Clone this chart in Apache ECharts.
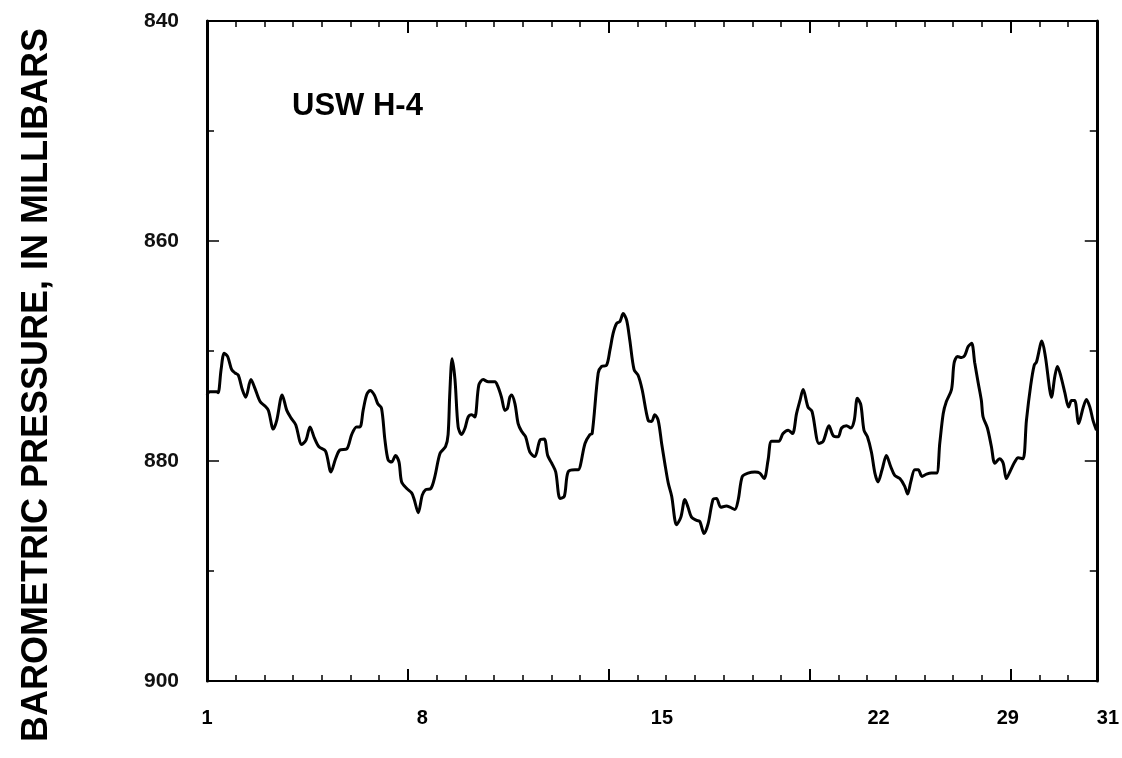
<!DOCTYPE html>
<html>
<head>
<meta charset="utf-8">
<script src="https://cdn.jsdelivr.net/npm/echarts@6/dist/echarts.min.js"></script>
<style>html,body{margin:0;padding:0;background:#fff}#c{width:1122px;height:758px}</style>
</head>
<body>
<div id="c"></div>
<script>
// Time in days (day 1 start .. end of day 31 = 32)
const days = [
 1.00,1.10,1.34,1.39,1.49,1.60,1.72,1.86,1.98,2.09,2.23,2.35,2.53,2.67,2.85,3.02,3.14,3.31,3.43,3.62,3.78,3.93,4.09,4.30,4.45,4.59,4.74,4.90,5.13,5.32,5.48,5.63,5.87,6.04,6.21,
 6.33,6.44,6.56,6.68,6.83,6.95,7.08,7.20,7.31,7.43,7.57,7.69,7.78,7.96,8.13,8.22,8.36,8.50,8.62,8.80,8.94,9.12,9.31,9.40,9.46,9.54,9.64,9.75,9.87,9.99,10.10,10.22,10.33,10.47,10.62,10.80,11.03,11.13,11.26,11.38,11.47,11.55,
 11.61,11.73,11.84,11.96,12.10,12.25,12.42,12.60,12.75,12.87,13.01,13.15,13.30,13.45,13.58,13.82,13.93,14.17,14.34,14.42,14.63,14.75,14.92,15.04,15.15,15.27,15.39,15.50,15.62,15.73,15.88,16.02,16.16,16.37,16.49,16.60,16.72,
 16.84,16.95,17.07,17.19,17.36,17.51,17.65,17.76,17.88,18.06,18.17,18.32,18.46,18.63,18.75,18.90,19.10,19.22,19.39,19.51,19.65,19.85,20.09,20.26,20.41,20.55,20.67,20.92,21.07,21.25,21.40,21.54,21.66,
 21.77,21.94,22.08,22.32,22.47,22.67,22.82,22.99,23.11,23.28,23.43,23.55,23.66,23.78,23.89,24.01,24.15,24.27,24.38,24.52,24.67,24.82,24.96,25.14,25.31,25.41,25.52,25.66,25.78,25.91,26.07,26.24,26.42,26.53,26.65,26.76,26.94,27.03,27.15,
 27.29,27.40,27.52,27.64,27.75,27.87,27.98,28.04,28.19,28.33,28.45,28.62,28.74,28.85,28.97,29.14,29.26,29.43,29.55,29.70,29.82,29.90,30.09,30.21,30.36,30.42,30.54,30.63,30.75,30.89,31.02,31.12,31.23,31.37,31.52,31.64,31.76,31.87,31.99
];
// Barometric pressure, millibars
const pressure = [
 874.0,873.7,873.7,873.8,871.7,870.2,870.5,871.7,872.0,872.2,873.5,874.2,872.6,873.4,874.6,875.0,875.4,877.1,876.3,874.0,875.4,876.1,876.7,878.5,878.1,876.9,877.9,878.7,879.1,881.0,879.8,879.0,878.9,877.6,876.9,
 876.9,875.4,874.0,873.6,874.0,874.8,875.2,878.1,879.9,880.1,879.5,880.1,881.9,882.5,882.9,883.5,884.7,883.1,882.6,882.5,881.4,879.3,878.7,877.6,873.8,870.7,872.6,876.9,877.6,877.0,876.0,875.8,876.0,873.1,872.6,872.8,872.8,873.2,874.2,875.4,875.2,874.2,
 874.0,874.8,876.6,877.3,877.8,879.2,879.6,878.1,878.0,879.5,880.2,881.0,883.4,883.2,881.0,880.8,880.8,878.4,877.6,877.5,872.0,871.4,871.3,869.9,868.4,867.5,867.3,866.6,867.2,869.0,871.7,872.2,873.5,876.3,876.4,875.8,876.3,
 878.4,880.2,882.0,883.2,885.8,885.1,883.5,884.2,885.1,885.4,885.5,886.6,885.7,883.5,883.4,884.2,884.1,884.2,884.4,883.5,881.4,881.1,881.0,881.1,881.6,879.9,878.2,878.2,877.5,877.2,877.5,875.7,874.5,
 873.5,875.1,875.5,878.4,878.2,876.8,877.7,877.8,877.0,876.8,877.0,876.3,874.3,874.9,877.2,877.8,879.2,881.1,881.9,880.8,879.5,880.5,881.3,881.6,882.3,883.0,881.9,880.8,880.8,881.4,881.2,881.1,881.1,878.4,875.7,874.6,873.5,871.1,870.5,
 870.6,870.4,869.6,869.3,871.1,872.9,874.5,876.0,877.0,878.7,880.2,879.8,880.2,881.6,881.0,880.1,879.7,879.8,876.3,873.1,871.3,871.0,869.1,870.5,873.5,874.2,872.3,871.4,872.3,873.8,875.1,874.5,874.5,876.6,875.2,874.4,875.1,876.3,877.2
];
const xMin = 1, xMax = 32;
const majorDays = [8, 15, 22, 29];
const xLabelText = ['1', '8', '15', '22', '29', '31'];
const xLabelAt = [1, 8.5, 16.85, 24.4, 28.9, 32];
const yMin = 840, yMax = 900;
const stationLabel = 'USW H-4';
const yTitle = 'BAROMETRIC PRESSURE, IN MILLIBARS';

const FONT = "'Liberation Sans', Arial, Helvetica, sans-serif";
const chart = echarts.init(document.getElementById('c'), null, {renderer: 'canvas'});

const dayAxis = (pos, lineWidth) => ({
  type: 'value', position: pos, min: xMin, max: xMax, interval: 1,
  axisLine: {show: true, onZero: false, lineStyle: {color: '#000', width: lineWidth}},
  axisTick: {show: true, inside: true, length: 6, lineStyle: {color: '#000', width: 1.5}},
  axisLabel: {show: false}, splitLine: {show: false}
});
const weekAxis = (pos, withLabels) => ({
  type: 'value', position: pos, min: xMin, max: xMax,
  axisLine: {show: false, onZero: false},
  axisTick: {show: true, inside: true, length: 12, customValues: majorDays, lineStyle: {color: '#000', width: 2}},
  axisLabel: withLabels ? {
    show: true, customValues: xLabelAt, margin: 27, alignMaxLabel: 'left',
    fontFamily: FONT, fontSize: 20, fontWeight: 'bold', color: '#000',
    formatter: v => { const i = xLabelAt.findIndex(p => Math.abs(p - v) < 1e-6); return i >= 0 ? xLabelText[i] : ''; }
  } : {show: false},
  splitLine: {show: false}
});
const pressAxis = (pos, withLabels) => ({
  type: 'value', position: pos, inverse: true, min: yMin, max: yMax, interval: 20,
  axisLine: {show: true, onZero: false, lineStyle: {color: '#000', width: 3}},
  axisTick: {show: true, inside: true, length: 12, lineStyle: {color: '#000', width: 1.5}},
  minorTick: {show: true, splitNumber: 2, length: 7, lineStyle: {color: '#000', width: 1.5}},
  axisLabel: withLabels ? {show: true, margin: 28, fontFamily: FONT, fontSize: 21, fontWeight: 'bold', color: '#111'} : {show: false},
  splitLine: {show: false},
  name: withLabels ? yTitle : '',
  nameLocation: 'middle', nameRotate: 90, nameGap: 152,
  nameTextStyle: {fontFamily: FONT, fontSize: 36, fontWeight: 'bold', color: '#000', padding: [0, 68, 0, 0]}
});

chart.setOption({
  animation: false,
  backgroundColor: '#fff',
  title: {
    text: stationLabel, left: 292, top: 91, padding: 0,
    textStyle: {fontFamily: FONT, fontSize: 31, fontWeight: 'bold', color: '#000'}
  },
  grid: {left: 207, right: 25, top: 21, bottom: 77, containLabel: false},
  xAxis: [dayAxis('bottom', 2), weekAxis('bottom', true), dayAxis('top', 2), weekAxis('top', false)],
  yAxis: [pressAxis('left', true), pressAxis('right', false)],
  series: [{
    type: 'line', xAxisIndex: 0, yAxisIndex: 0,
    data: days.map((d, i) => [d, pressure[i]]),
    showSymbol: false, symbol: 'none', smooth: 0.3,
    lineStyle: {color: '#000', width: 3}
  }]
});
</script>
</body>
</html>
